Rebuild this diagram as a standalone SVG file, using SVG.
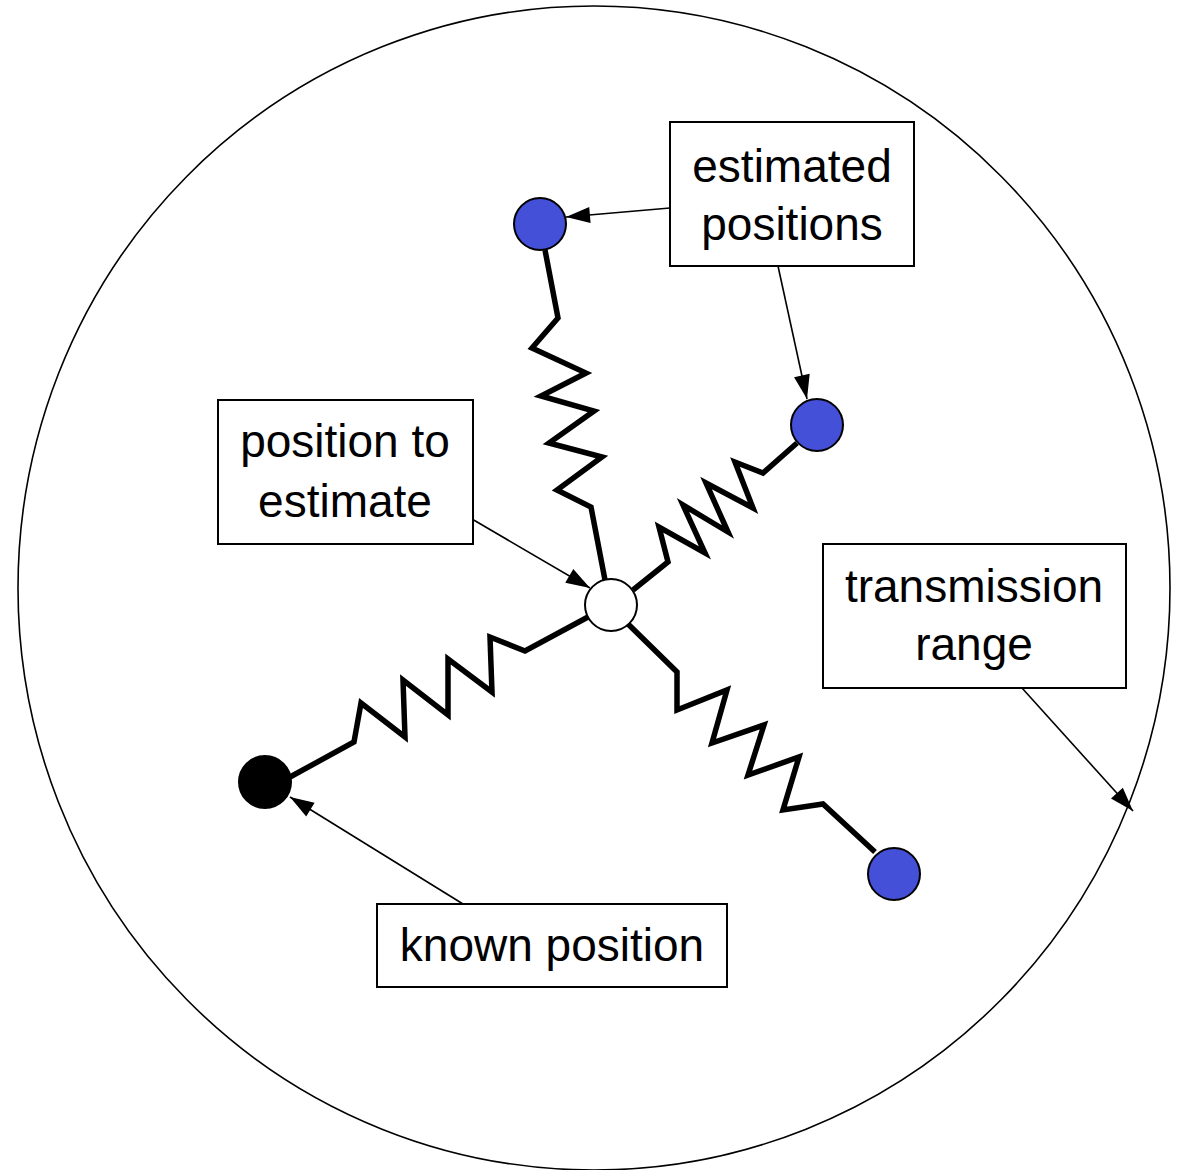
<svg xmlns="http://www.w3.org/2000/svg" width="1189" height="1170" viewBox="0 0 1189 1170">
<style>
.lbl{fill:#fff;stroke:#000;stroke-width:2}
.txt{font-family:"Liberation Sans",Arial,sans-serif;font-size:46px;fill:#000;text-anchor:middle}
.spring{fill:none;stroke:#000;stroke-width:5.5;stroke-linejoin:miter;stroke-linecap:butt}
.ptr{stroke:#000;stroke-width:1.6;fill:none}
.est{fill:#4450d8;stroke:#000;stroke-width:2}
</style>
<defs>
<marker id="ah" markerUnits="userSpaceOnUse" markerWidth="30" markerHeight="24" viewBox="0 0 30 24" refX="26" refY="12" orient="auto">
<path d="M2,4 L26,12 L2,20 Z" fill="#000"/>
</marker>
</defs>
<rect width="1189" height="1170" fill="#fff"/>
<g id="range">
<ellipse cx="594" cy="588" rx="576" ry="582" fill="none" stroke="#000" stroke-width="1.6"/>
</g>
<g id="connectors">
<polyline class="spring" points="545,250 558,318 532,348 586,373 541,396 594,411 549,443 602,457 557,490 591,507 605,580"/>
<polyline class="spring" points="633,590 668,562 659,527 705,553 683,505 728,532 706,483 753,508 735,462 763,473 797,443"/>
<polyline class="spring" points="588,617 525,651 490,637 492,692 448,659 448,715 403,680 405,737 361,703 354,742 290,777"/>
<polyline class="spring" points="627,623 677,672 677,710 727,690 712,743 764,725 748,775 799,757 783,810 823,804 875,852"/>
<line class="ptr" x1="670" y1="208" x2="566" y2="217" marker-end="url(#ah)"/>
<line class="ptr" x1="778" y1="266" x2="807" y2="399" marker-end="url(#ah)"/>
<line class="ptr" x1="460" y1="512" x2="590" y2="588" marker-end="url(#ah)"/>
<line class="ptr" x1="463" y1="904" x2="290" y2="797" marker-end="url(#ah)"/>
<line class="ptr" x1="1022" y1="688" x2="1133" y2="811" marker-end="url(#ah)"/>
</g>
<g id="node-est1"><circle class="est" cx="540" cy="224" r="26"/></g>
<g id="node-est2"><circle class="est" cx="817" cy="425" r="26"/></g>
<g id="node-est3"><circle class="est" cx="894" cy="874" r="26"/></g>
<g id="node-known"><circle cx="265" cy="782" r="26" fill="#000" stroke="#000" stroke-width="2"/></g>
<g id="node-target"><circle cx="611" cy="605" r="26" fill="#fff" stroke="#000" stroke-width="2"/></g>
<g id="label-estimated">
<rect class="lbl" x="670" y="122" width="244" height="144"/>
<text class="txt" x="792" y="182">estimated</text>
<text class="txt" x="792" y="240">positions</text>
</g>
<g id="label-target">
<rect class="lbl" x="218" y="400" width="255" height="144"/>
<text class="txt" x="345" y="457">position to</text>
<text class="txt" x="345" y="517">estimate</text>
</g>
<g id="label-range">
<rect class="lbl" x="823" y="544" width="303" height="144"/>
<text class="txt" x="974" y="602">transmission</text>
<text class="txt" x="974" y="660">range</text>
</g>
<g id="label-known">
<rect class="lbl" x="377" y="904" width="350" height="83"/>
<text class="txt" x="552" y="961">known position</text>
</g>
</svg>
